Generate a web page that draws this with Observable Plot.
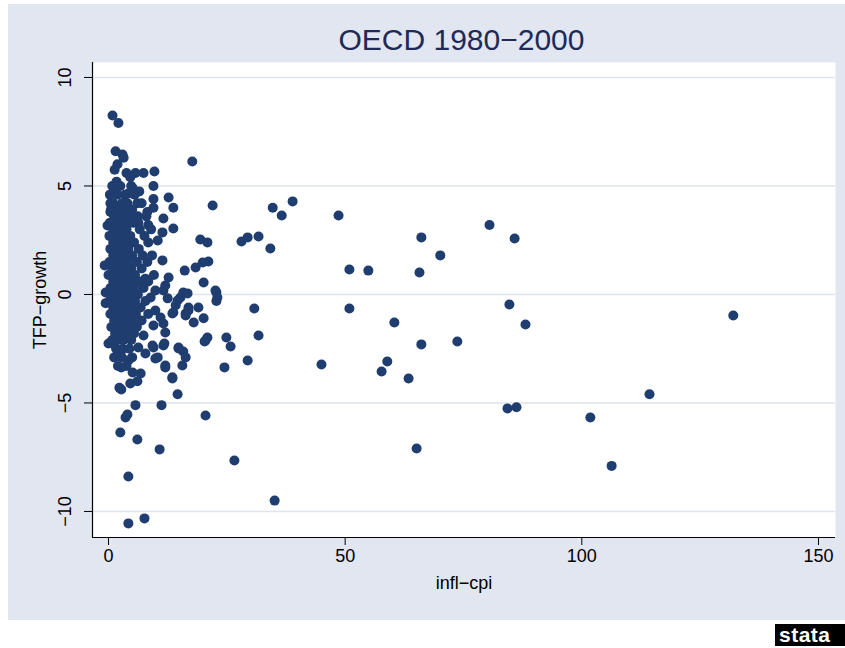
<!DOCTYPE html>
<html>
<head>
<meta charset="utf-8">
<script src="https://cdn.jsdelivr.net/npm/d3@7"></script>
<script src="https://cdn.jsdelivr.net/npm/@observablehq/plot@0.6"></script>
<style>
  html, body { margin: 0; padding: 0; background: #ffffff; }
  body { width: 845px; height: 648px; position: relative; overflow: hidden; font-family: "Liberation Sans", Arial, sans-serif; }
  #bg { position: absolute; left: 8px; top: 4px; width: 837px; height: 616px; background: #e1e6f0; }
  #title { position: absolute; left: 0; width: 923px; top: 22px; text-align: center; font-size: 30px; color: #1e2b56; line-height: 36px; }
  #chart { position: absolute; left: 0; top: 0; }
  #logo { position: absolute; left: 775px; top: 624px; width: 70px; height: 22px; background: #000; color: #fff; font-weight: bold; font-size: 21px; line-height: 22px; letter-spacing: 0.5px; padding-left: 4px; box-sizing: border-box; overflow: hidden; }
</style>
</head>
<body>
<div id="bg"></div>
<div id="title">OECD 1980−2000</div>
<div id="chart"></div>
<div id="logo">stata</div>
<script>
// inflation (CPI, %) and TFP growth (%) pairs
const infl = [
  // sparse, higher inflation
  132.0, 114.3, 106.3, 101.8, 80.5, 85.8, 84.7, 88.1, 84.3, 86.2, 73.7, 70.1, 66.1, 65.7, 66.1, 65.1, 63.4, 60.4, 58.9, 57.7,
  54.9, 50.9, 50.9, 48.6, 45.0, 38.9, 36.6, 34.7, 34.2, 35.1, 31.7, 29.4, 28.1, 30.8, 31.7, 29.4, 26.6, 25.8, 24.9, 24.5,
  17.7, 22.0, 22.8, 22.8, 20.5,
  // upper cluster
  0.85, 2.1, 1.5, 2.96, 3.2, 1.9, 1.3, 3.8, 5.7, 7.4, 9.7, 4.6, 1.7, 5.1, 6.5, 9.5, 1.5, 12.7, 9.5, 13.7,
  9.5, 0.4, 6.1, 8.2, 11.6, 13.7, 4.2, 1.1, 0.4, 2.5, 4.2, 6.3, 8.4, -0.2,
  // middle band
  11.4, 10.4, 19.4, 20.9, 11.4, 21.1, 19.9, 18.4, 16.1, 12.7, 7.8, 12.0, 20.1, 22.6, 15.8, 15.2, 8.9, 14.2, 16.9, 19.0,
  -0.6, -0.6, 16.7, 14.6, 13.7, 16.9, 20.1, 16.3, 18.0, 11.6, 12.0, 20.9, 20.3, 14.8, 15.8, 16.3, 15.6, 12.0, 13.5, 9.5,
  10.4, 11.6, 9.9, 11.0, 9.9, 11.6, 12.5, 23.0,
  // lower band
  0.0, 2.5, 4.2, 2.7, 5.1, 6.8, 4.6, 2.7, 13.5, 14.6, 12.0, 9.9, 11.8, 9.3, 6.3, 7.8, 14.8, 20.5, 7.4, 0.85,
  9.5, 16.3, 13.5, 2.5, 6.1, 10.8, 4.2, 4.2, 7.6, 5.7, 11.2, 4.0, 3.6, 6.1, 2.3,
  // dense core
  0.8, 2.5, 4.8,
  0.3, 1.8, 3.5, 5.5,
  1.0, 2.8, 4.0, 7.0,
  0.5, 2.0, 3.3, 5.0,
  1.2, 2.6, 4.4, 6.2, 8.0,
  0.3, 1.8, 3.0, 5.2,
  1.0, 2.4, 3.8, 6.6, 9.0,
  0.2, 1.6, 3.0, 4.6, 7.6,
  1.0, 2.2, 3.6, 5.4, 8.4,
  0.4, 1.6, 2.8, 4.2, 6.4,
  1.0, 2.0, 3.4, 5.0, 7.2, 9.2,
  -0.8, 0.2, 1.4, 2.6, 4.0, 6.0, 8.2,
  0.8, 2.0, 3.2, 4.8, 7.0,
  0.0, 1.4, 2.6, 3.8, 5.6, 9.6,
  1.0, 2.2, 3.4, 4.6, 6.6, 8.4,
  0.4, 1.6, 2.8, 4.0, 5.4, 7.4,
  1.0, 2.2, 3.4, 4.8, 6.2,
  0.2, 1.6, 2.8, 4.0, 5.6, 7.8,
  1.0, 2.2, 3.4, 4.8, 6.8,
  0.4, 1.6, 2.8, 4.2, 5.8, 8.4,
  1.2, 2.4, 3.6, 5.0, 7.0,
  0.6, 1.8, 3.0, 4.4, 6.0,
  1.4, 2.6, 3.8, 5.4,
  0.8, 2.0, 3.2, 4.8,
  1.6, 3.0, 4.4,
  1.2, 2.8, 5.0,
  2.0, 3.8
];
const tfp = [
  -0.97, -4.6, -7.9, -5.67, 3.2, 2.58, -0.46, -1.38, -5.25, -5.2, -2.17, 1.8, 2.63, 1.01, -2.3, -7.1, -3.87, -1.29, -3.09, -3.55,
  1.1, 1.15, -0.65, 3.64, -3.23, 4.29, 3.64, 4.0, 2.12, -9.5, 2.67, 2.63, 2.44, -0.65, -1.89, -3.04, -7.65, -2.4, -1.98, -3.36,
  6.13, 4.1, 0.09, -0.3, -5.58,
  8.25, 7.9, 6.6, 6.45, 6.3, 6.0, 5.75, 5.6, 5.6, 5.6, 5.67, 5.4, 5.2, 4.9, 4.75, 5.0, 4.8, 4.47, 4.4, 4.0,
  4.0, 4.2, 4.2, 3.8, 3.5, 3.04, 4.65, 4.7, 3.8, 3.7, 3.3, 3.3, 3.2, 3.18,
  2.86, 2.49, 2.53, 2.4, 1.57, 1.52, 1.47, 1.24, 1.1, 0.78, 0.73, 0.41, 0.55, 0.18, 0.09, -0.14, -0.14, -0.5, -0.6, -0.6,
  0.09, -0.4, 0.05, -0.28, -0.83, -0.74, -1.1, -0.97, -1.29, -1.34, -1.75, -1.98, -2.17, -2.44, -2.63, -2.9, -3.27, -3.27, -3.82, -2.44,
  -2.9, -2.35, -0.74, -1.06, 0.18, 0.18, -0.18, -0.14,
  -2.26, -2.72, -3.04, -3.36, -3.6, -3.64, -4.1, -4.38, -3.87, -4.6, -3.36, -2.95, -2.26, -2.35, -2.44, -2.72, -2.49, -2.12, -1.89, -2.26,
  -1.43, -0.88, -0.88, -6.36, -6.68, -7.14, -8.39, -10.55, -10.32, -5.1, -5.1, -5.53, -5.67, -4.0, -4.3,
  5.0, 5.0, 5.0,
  4.6, 4.6, 4.6, 4.6,
  4.2, 4.2, 4.2, 4.2,
  3.9, 3.9, 3.9, 3.9,
  3.6, 3.6, 3.6, 3.6, 3.6,
  3.3, 3.3, 3.3, 3.3,
  3.0, 3.0, 3.0, 3.0, 3.0,
  2.7, 2.7, 2.7, 2.7, 2.7,
  2.4, 2.4, 2.4, 2.4, 2.4,
  2.1, 2.1, 2.1, 2.1, 2.1,
  1.8, 1.8, 1.8, 1.8, 1.8, 1.8,
  1.34, 1.5, 1.5, 1.5, 1.5, 1.5, 1.5,
  1.2, 1.2, 1.2, 1.2, 1.2,
  0.9, 0.9, 0.9, 0.9, 0.9, 0.9,
  0.6, 0.6, 0.6, 0.6, 0.6, 0.6,
  0.3, 0.3, 0.3, 0.3, 0.3, 0.3,
  0.0, 0.0, 0.0, 0.0, 0.0,
  -0.3, -0.3, -0.3, -0.3, -0.3, -0.3,
  -0.6, -0.6, -0.6, -0.6, -0.6,
  -0.9, -0.9, -0.9, -0.9, -0.9, -0.9,
  -1.2, -1.2, -1.2, -1.2, -1.2,
  -1.5, -1.5, -1.5, -1.5, -1.5,
  -1.8, -1.8, -1.8, -1.8,
  -2.1, -2.1, -2.1, -2.1,
  -2.5, -2.5, -2.5,
  -2.9, -2.9, -2.9,
  -3.3, -3.3
];
const xTicks = [0, 50, 100, 150];
const yTicks = [-10, -5, 0, 5, 10];
const xLabel = "infl−cpi";
const yLabel = "TFP−growth";
const minus = (d) => String(d).replace("-", "−");

const n = Math.min(infl.length, tfp.length);
const points = d3.range(n).map((i) => ({infl: infl[i], tfp: tfp[i]}));

const xDomain = [-3.38, 153.6];
const yDomain = [-11.2, 10.69];

const chart = Plot.plot({
  width: 845,
  height: 620,
  marginLeft: 92,
  marginRight: 10,
  marginTop: 62,
  marginBottom: 83,
  style: {background: "transparent", fontFamily: "'Liberation Sans', Arial, sans-serif", fontSize: "18px", color: "#000", overflow: "visible"},
  x: {domain: xDomain},
  y: {domain: yDomain},
  marks: [
    Plot.frame({fill: "white", stroke: "none"}),
    Plot.gridY(yTicks, {stroke: "#dde3ef", strokeOpacity: 1, strokeWidth: 1.6}),
    Plot.dot(points, {x: "infl", y: "tfp", r: 5, fill: "#1f3d6f", stroke: "none"}),
    Plot.ruleX([xDomain[0]], {stroke: "#000", strokeWidth: 1.2}),
    Plot.ruleY([yDomain[0]], {stroke: "#000", strokeWidth: 1.2}),
    Plot.axisX(xTicks, {tickSize: 8, tickPadding: 4, tickFormat: (d) => minus(d), label: null, fontSize: 18}),
    Plot.axisY(yTicks, {tickSize: 8, tickFormat: () => "", label: null}),
    Plot.text(yTicks, {x: xDomain[0], y: (d) => d, text: (d) => minus(d), rotate: -90, dx: -27, textAnchor: "middle", lineAnchor: "middle", fontSize: 18, fill: "#000"}),
    Plot.text([xLabel], {x: (xDomain[0] + xDomain[1]) / 2, y: yDomain[0], text: (d) => d, dy: 46, textAnchor: "middle", fontSize: 18, fill: "#000"}),
    Plot.text([yLabel], {x: xDomain[0], y: (yDomain[0] + yDomain[1]) / 2, text: (d) => d, rotate: -90, dx: -52, textAnchor: "middle", fontSize: 18, fill: "#000"})
  ]
});
document.getElementById("chart").appendChild(chart);
</script>
</body>
</html>
